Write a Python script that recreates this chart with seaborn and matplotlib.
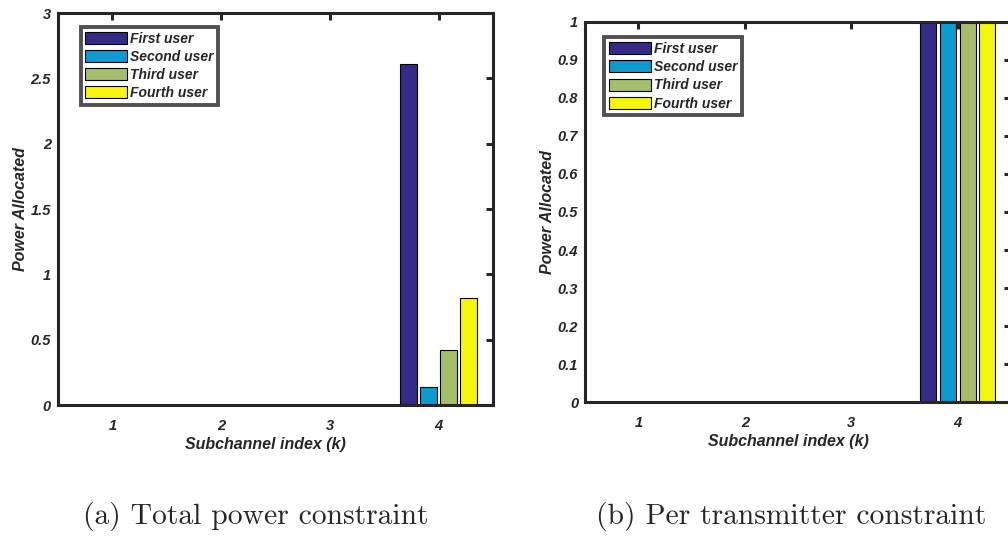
import matplotlib
matplotlib.use("Agg")
import matplotlib.pyplot as plt
import seaborn as sns
import pandas as pd
from matplotlib.ticker import FuncFormatter

subchannels = ["1", "2", "3", "4"]
users = ["First user", "Second user", "Third user", "Fourth user"]
colors = ["#352A87", "#0B9BCF", "#A5BE6A", "#F5F50E"]

# Power per user on each subchannel
total_first = [0, 0, 0, 2.61]
total_second = [0, 0, 0, 0.14]
total_third = [0, 0, 0, 0.42]
total_fourth = [0, 0, 0, 0.82]

per_first = [0, 0, 0, 1.0]
per_second = [0, 0, 0, 1.0]
per_third = [0, 0, 0, 1.0]
per_fourth = [0, 0, 0, 1.0]

captions = ["(a) Total power constraint", "(b) Per transmitter constraint"]


def make_df(series):
    rows = []
    for u, vals in zip(users, series):
        for k, v in zip(subchannels, vals):
            rows.append({"k": k, "user": u, "power": v})
    return pd.DataFrame(rows)


df_a = make_df([total_first, total_second, total_third, total_fourth])
df_b = make_df([per_first, per_second, per_third, per_fourth])

sns.set_theme(style="white")
plt.rcParams["font.family"] = ["Liberation Sans", "DejaVu Sans"]

fig = plt.figure(figsize=(10.08, 5.44), dpi=100)
ax_a = fig.add_axes([0.0575, 0.2555, 0.4315, 0.7205])
ax_b = fig.add_axes([0.5805, 0.2610, 0.4225, 0.6986])

fmt = FuncFormatter(lambda v, p: ("%g" % round(v, 3)))
spine_col = "#262626"


def draw(ax, df, ylim, yticks, leg_anchor, xlab_x):
    sns.barplot(data=df, x="k", y="power", hue="user", hue_order=users,
                order=subchannels, palette=colors, width=0.74, gap=0.18,
                edgecolor="black", linewidth=0.8, errorbar=None, ax=ax,
                saturation=1)
    ax.set_xlim(-0.5, 3.5)
    ax.set_ylim(*ylim)
    ax.set_yticks(yticks)
    ax.yaxis.set_major_formatter(fmt)
    ax.set_xlabel("Subchannel index (k)", fontsize=11.5, fontweight="bold",
                  fontstyle="italic", color="#262626", labelpad=3)
    ax.set_ylabel("Power Allocated", fontsize=11.5, fontweight="bold",
                  fontstyle="italic", color="#262626", labelpad=2)
    ax.xaxis.label.set_x(xlab_x)
    ax.tick_params(axis="both", direction="in", top=True, right=True,
                   length=5, width=2.2, color=spine_col, labelsize=10.5,
                   labelcolor="#262626")
    ax.tick_params(axis="x", pad=10)
    ax.tick_params(axis="y", pad=5)
    for lab in ax.get_xticklabels() + ax.get_yticklabels():
        lab.set_fontweight("bold")
        lab.set_fontstyle("italic")
    for s in ax.spines.values():
        s.set_visible(True)
        s.set_linewidth(2.2)
        s.set_color(spine_col)
    handles, labels = ax.get_legend_handles_labels()
    leg = ax.legend(handles, labels, loc="upper left", bbox_to_anchor=leg_anchor,
                    frameon=True, fancybox=False, handlelength=3.0,
                    handleheight=0.95, handletextpad=0.2, labelspacing=0.3,
                    borderpad=0.35, borderaxespad=0.0,
                    prop={"weight": "bold", "style": "italic", "size": 10})
    leg.get_frame().set_edgecolor(spine_col)
    leg.get_frame().set_linewidth(2.8)


draw(ax_a, df_a, (0, 3), [0, 0.5, 1, 1.5, 2, 2.5, 3], (0.052, 0.965), 0.478)
draw(ax_b, df_b, (0, 1), [i / 10 for i in range(11)], (0.045, 0.96), 0.477)

fig.text(0.254, 0.05, captions[0], fontsize=21.3, family="cmr10", ha="center", va="center")
fig.text(0.785, 0.05, captions[1], fontsize=21.3, family="cmr10", ha="center", va="center")

fig.savefig("out.png", dpi=100)
